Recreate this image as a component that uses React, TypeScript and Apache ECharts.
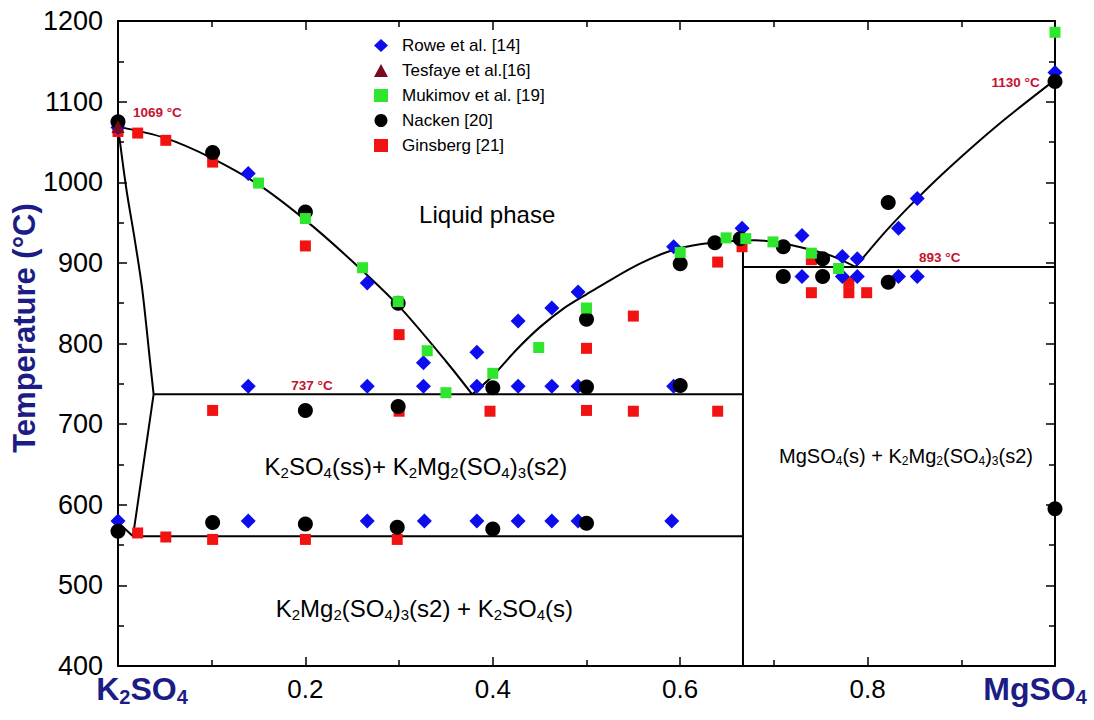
import React, { useEffect, useRef } from 'react';
import * as echarts from 'echarts';

const FONT = '"Liberation Sans", Arial, Helvetica, sans-serif';
const NAVY = '#1c1c86';
const ANNOT = '#c8102e';

// ---------- data ----------
const xTickValues = [0, 0.2, 0.4, 0.6, 0.8, 1.0];
const yTickValues = [400, 500, 600, 700, 800, 900, 1000, 1100, 1200];

const seriesNames = ['Rowe et al. [14]', 'Tesfaye et al.[16]', 'Mukimov et al. [19]', 'Nacken [20]', 'Ginsberg [21]'];

const rowe: number[][] = [
  [0, 1068], [0.139, 1011], [0.266, 875], [0.326, 776], [0.383, 789], [0.427, 828], [0.463, 844], [0.491, 864],
  [0.593, 920], [0.666, 943], [0.73, 934], [0.773, 908], [0.789, 905], [0.833, 943], [0.853, 980], [1.0, 1136],
  [0.139, 747], [0.266, 747], [0.326, 747], [0.383, 747], [0.427, 747], [0.463, 747], [0.491, 747], [0.593, 747],
  [0.73, 883], [0.773, 883], [0.789, 883], [0.833, 883], [0.853, 883],
  [0, 580], [0.139, 580], [0.266, 580], [0.327, 580], [0.383, 580], [0.427, 580], [0.463, 580], [0.491, 580], [0.591, 580],
];
const tesfaye: number[][] = [[0, 1069]];
const mukimov: number[][] = [
  [0.15, 999], [0.2, 955], [0.261, 894], [0.299, 852], [0.33, 791], [0.35, 739], [0.4, 763], [0.449, 795],
  [0.5, 844], [0.6, 913], [0.649, 931], [0.67, 930], [0.699, 926], [0.74, 912], [0.769, 893], [1.0, 1186],
];
const nacken: number[][] = [
  [0, 1075], [0.101, 1037], [0.2, 963], [0.299, 850], [0.2, 717], [0.299, 722], [0.4, 745], [0.5, 830], [0.5, 746],
  [0.6, 899], [0.6, 748], [0.637, 925], [0.664, 930], [0.71, 920], [0.71, 883], [0.752, 905], [0.752, 883],
  [0.822, 975], [0.822, 876], [1.0, 1125], [1.0, 595],
  [0, 567], [0.101, 578], [0.2, 576], [0.298, 572], [0.4, 570], [0.5, 577],
];
const ginsberg: number[][] = [
  [0, 1063], [0.021, 1061], [0.051, 1052], [0.101, 1025], [0.2, 921], [0.3, 811], [0.101, 717], [0.3, 716],
  [0.397, 716], [0.5, 794], [0.5, 717], [0.55, 834], [0.55, 716], [0.64, 901], [0.64, 716], [0.666, 920],
  [0.74, 904], [0.74, 863], [0.78, 876], [0.78, 863], [0.799, 863],
  [0.021, 565], [0.051, 560], [0.101, 557], [0.2, 557], [0.298, 557],
];

// phase boundaries
const liquidusLeft: number[][] = [
  [0, 1069], [0.05, 1055], [0.1, 1030], [0.15, 997], [0.2, 953], [0.25, 902], [0.3, 846], [0.35, 778], [0.378, 737],
];
const liquidusMid: number[][] = [
  [0.378, 737], [0.4, 760], [0.425, 792], [0.45, 820], [0.475, 843], [0.5, 861], [0.52, 875], [0.557, 899],
  [0.59, 915], [0.621, 923], [0.656, 927], [0.68, 928], [0.71, 924], [0.74, 916], [0.763, 908], [0.787, 895],
];
const liquidusRight: number[][] = [[0.787, 895], [0.82, 940], [0.853, 980], [0.888, 1019], [0.94, 1072], [1.0, 1127]];
const solidusSS: number[][] = [[0, 1069], [0.009, 991], [0.018, 928], [0.026, 866], [0.034, 780], [0.038, 737]];
const solvus: number[][] = [[0.038, 737], [0.016, 561]];
const lowLeft: number[][] = [[0, 578], [0.016, 561]];
const eutectoid: number[][] = [[0.016, 561], [0.667, 561]];
const eutectic: number[][] = [[0.038, 737], [0.667, 737]];
const peritectic: number[][] = [[0.667, 895], [1.0, 895]];
const congruent: number[][] = [[0.667, 400], [0.667, 928]];

const phaseLabels = [
  { text: 'Liquid phase', x: 0.394, y: 960 },
  { text: 'K_2SO_4(ss)+ K_2Mg_2(SO_4)_3(s2)', x: 0.318, y: 647 },
  { text: 'MgSO_4(s) + K_2Mg_2(SO_4)_3(s2)', x: 0.841, y: 661 },
  { text: 'K_2Mg_2(SO_4)_3(s2) + K_2SO_4(s)', x: 0.327, y: 471 },
];
const tempLabels = [
  { text: '1069 °C', x: 0.042, y: 1086 },
  { text: '737 °C', x: 0.207, y: 748 },
  { text: '893 °C', x: 0.877, y: 907 },
  { text: '1130 °C', x: 0.958, y: 1124 },
];

// ---------- helpers ----------
function chem(src: string, n: string, s: string): string {
  return src
    .split(/_(\d)/)
    .map((part, i) => (part === '' ? '' : i % 2 === 1 ? `{${s}|${part}}` : `{${n}|${part}}`))
    .join('');
}

function richPair(n: string, s: string, size: number, color: string, weight: string, lh?: number) {
  const sub = Math.round(size * 0.62);
  const shift = 0.35 * size - 0.35 * sub + 0.12 * size;
  return {
    [n]: { fontSize: size, fontWeight: weight, color, fontFamily: FONT, lineHeight: lh ?? Math.round(size * 1.3), textBorderWidth: 0 },
    [s]: { fontSize: sub, fontWeight: weight, color, fontFamily: FONT, lineHeight: sub, padding: [Math.round(shift * 2), 0, 0, 0], textBorderWidth: 0 },
  };
}

const phaseSizes = [24, 24, 20, 24];

export default function App() {
  const ref = useRef<HTMLDivElement>(null);

  useEffect(() => {
    document.body.style.margin = '0';
    if (!ref.current) return;
    const chart = echarts.init(ref.current, null, { renderer: 'svg' });

    const axisLineStyle = { color: '#000', width: 2 };
    const tickStyle = { color: '#000', width: 1.5 };

    const xRich: any = {
      ...richPair('b', 'bs', 32, NAVY, 'bold', 38),
      num: { fontSize: 26, color: '#000', fontFamily: FONT, lineHeight: 38 },
    };
    xRich.k0 = { ...xRich.b, padding: [0, 0, 0, 48] };
    xRich.m4 = { ...xRich.bs, padding: [xRich.bs.padding[0], 40, 0, 0] };

    const xAxisBase = {
      type: 'value',
      min: 0,
      max: 1,
      interval: 0.2,
      axisLine: { onZero: false, lineStyle: axisLineStyle },
      axisTick: { inside: true, length: 9, lineStyle: tickStyle },
      minorTick: { show: true, splitNumber: 2, length: 6, lineStyle: tickStyle },
      splitLine: { show: false },
    };
    const yAxisBase = {
      type: 'value',
      min: yTickValues[0],
      max: yTickValues[yTickValues.length - 1],
      interval: 100,
      axisLine: { onZero: false, lineStyle: axisLineStyle },
      axisTick: { inside: true, length: 9, lineStyle: tickStyle },
      minorTick: { show: true, splitNumber: 2, length: 6, lineStyle: tickStyle },
      splitLine: { show: false },
    };

    const lineSeries = (data: number[][], smooth: boolean | number) => ({
      type: 'line',
      data,
      symbol: 'none',
      smooth,
      silent: true,
      lineStyle: { color: '#000', width: 2 },
      z: 1,
    });

    const scatter = (name: string, data: number[][], symbol: string, size: number, color: string) => ({
      type: 'scatter',
      name,
      data,
      symbol,
      symbolSize: size,
      itemStyle: { color, opacity: 1 },
      silent: true,
      z: 3,
    });

    const phaseRich: any = {};
    phaseSizes.forEach((sz) => Object.assign(phaseRich, richPair('n' + sz, 's' + sz, sz, '#000', 'normal')));
    const labelData = [
      ...phaseLabels.map((p, i) => ({
        value: [p.x, p.y],
        label: { formatter: chem(p.text, 'n' + phaseSizes[i], 's' + phaseSizes[i]) },
      })),
      ...tempLabels.map((p) => ({
        value: [p.x, p.y],
        label: { formatter: `{t|${p.text}}` },
      })),
    ];

    const option: any = {
      animation: false,
      grid: { left: 118, right: 39, top: 21, bottom: 54, containLabel: false, outerBoundsMode: 'none' },
      xAxis: [
        {
          ...xAxisBase,
          position: 'bottom',
          axisLabel: {
            margin: 4,
            rich: xRich,
            formatter: (v: number) => {
              if (Math.abs(v - xTickValues[0]) < 1e-9) return '{k0|K}{bs|2}{b|SO}{bs|4}';
              if (Math.abs(v - xTickValues[xTickValues.length - 1]) < 1e-9) return '{b|MgSO}{m4|4}';
              return `{num|${v.toFixed(1)}}`;
            },
          },
        },
        { ...xAxisBase, position: 'top', axisLabel: { show: false } },
      ],
      yAxis: [
        {
          ...yAxisBase,
          position: 'left',
          axisLabel: { margin: 15, fontSize: 27, color: '#000', fontFamily: FONT, formatter: (v: number) => String(Math.round(v)) },
        },
        { ...yAxisBase, position: 'right', axisLabel: { show: false } },
      ],
      legend: {
        data: seriesNames,
        orient: 'vertical',
        left: 374,
        top: 37,
        padding: 0,
        itemWidth: 14,
        itemHeight: 13,
        itemGap: 8,
        selectedMode: false,
        textStyle: { fontFamily: FONT, fontSize: 17, color: '#000', lineHeight: 13, padding: [0, 0, 0, 9] },
      },
      graphic: [
        {
          type: 'text',
          x: 24,
          y: 328,
          rotation: Math.PI / 2,
          style: {
            text: 'Temperature (°C)',
            fontSize: 31,
            fontWeight: 'bold',
            fontFamily: FONT,
            fill: NAVY,
            align: 'center',
            verticalAlign: 'middle',
            textAlign: 'center',
            textVerticalAlign: 'middle',
          },
        },
      ],
      series: [
        lineSeries(liquidusLeft, 0.3),
        lineSeries(liquidusMid, 0.3),
        lineSeries(liquidusRight, 0.3),
        lineSeries(solidusSS, 0.3),
        lineSeries(solvus, false),
        lineSeries(lowLeft, false),
        lineSeries(eutectoid, false),
        lineSeries(eutectic, false),
        lineSeries(peritectic, false),
        lineSeries(congruent, false),
        scatter(seriesNames[4], ginsberg, 'rect', 11, '#f21212'),
        scatter(seriesNames[0], rowe, 'diamond', 15, '#0c0cee'),
        scatter(seriesNames[3], nacken, 'circle', 15, '#000000'),
        scatter(seriesNames[2], mukimov, 'rect', 11, '#2ee62e'),
        scatter(seriesNames[1], tesfaye, 'triangle', 13, '#7a0a22'),
        {
          type: 'scatter',
          data: labelData,
          symbolSize: 0,
          itemStyle: { color: '#000', opacity: 1 },
          silent: true,
          z: 5,
          label: {
            show: true,
            position: 'inside',
            opacity: 1,
            textBorderWidth: 0,
            rich: {
              ...phaseRich,
              t: { fontSize: 13.5, fontWeight: 'bold', color: ANNOT, fontFamily: FONT, textBorderWidth: 0 },
            },
          },
        },
      ],
    };

    chart.setOption(option);
    return () => chart.dispose();
  }, []);

  return <div ref={ref} style={{ position: 'absolute', left: 0, top: 0, width: 1094, height: 720 }} />;
}
